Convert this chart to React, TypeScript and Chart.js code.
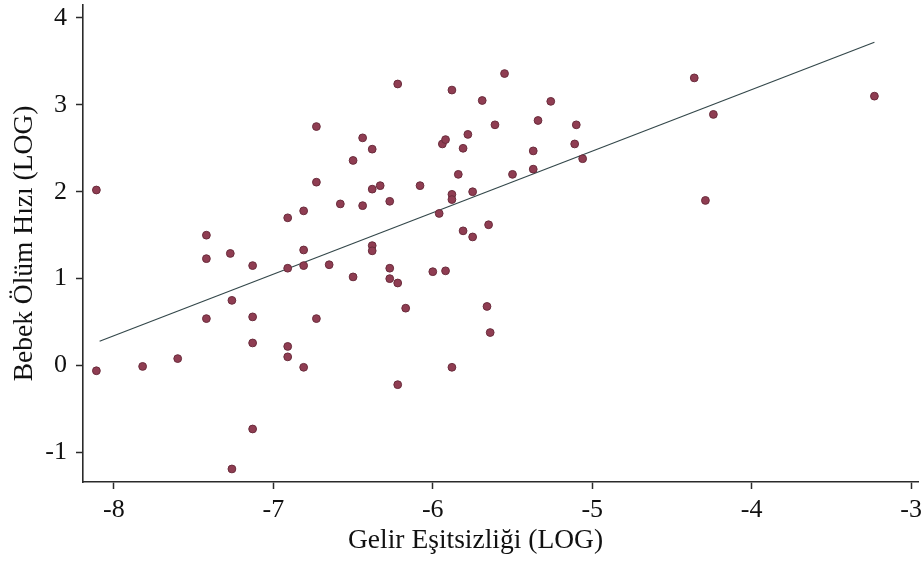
import React, { useEffect, useRef } from "react";
import { Chart, registerables } from "chart.js";

Chart.register(...registerables);

// Scatter observations: income inequality (log) vs infant mortality (log)
const xValues = [
  -8.11, -8.11, -7.82, -7.6, -7.42, -7.42, -7.42, -7.27, -7.26, -7.26,
  -7.13, -7.13, -7.13, -7.13, -6.91, -6.81, -6.81, -6.91, -6.81, -6.91,
  -6.91, -6.81, -6.73, -6.73, -6.73, -6.65, -6.58, -6.5, -6.5, -6.44,
  -6.44, -6.38, -6.38, -6.33, -6.38, -6.38, -6.27, -6.27, -6.27, -6.22,
  -6.22, -6.17, -6.22, -6.08, -6.0, -5.92, -5.96, -5.94, -5.92, -5.88,
  -5.88, -5.88, -5.88, -5.84, -5.81, -5.78, -5.81, -5.75, -5.75, -5.69,
  -5.65, -5.66, -5.64, -5.61, -5.55, -5.5, -5.37, -5.37, -5.34, -5.26,
  -5.11, -5.1, -5.06, -4.36, -4.24, -4.29, -3.23,
];
const yValues = [
  2.02, -0.06, -0.01, 0.08, 1.5, 1.23, 0.54, 1.29, 0.75, -1.19,
  1.15, 0.56, 0.26, -0.73, 1.7, 1.78, 1.33, 1.12, 1.15, 0.22,
  0.1, -0.02, 2.75, 2.11, 0.54, 1.16, 1.86, 2.36, 1.02, 2.62,
  1.84, 2.49, 2.03, 2.07, 1.38, 1.32, 1.89, 1.12, 1.0, 0.95,
  3.24, 0.66, -0.22, 2.07, 1.08, 1.09, 1.75, 2.55, 2.6, 3.17,
  1.97, 1.91, -0.02, 2.2, 2.5, 2.66, 1.55, 1.48, 2.0, 3.05,
  1.62, 0.68, 0.38, 2.77, 3.36, 2.2, 2.26, 2.47, 2.82, 3.04,
  2.55, 2.77, 2.38, 3.31, 2.89, 1.9, 3.1,
];

// Fitted regression line end points
const fitX = [-8.09, -3.23];
const fitY = [0.28, 3.72];

const xTicks = [-8, -7, -6, -5, -4, -3];
const yTicks = [-1, 0, 1, 2, 3, 4];

const xTitle = "Gelir Eşitsizliği (LOG)";
const yTitle = "Bebek Ölüm Hızı (LOG)";

const FONT = "'Liberation Serif', 'Times New Roman', serif";

const xTitlePlugin = {
  id: "xTitleOffset",
  afterDraw(chart: any) {
    const ctx = chart.ctx;
    const area = chart.chartArea;
    ctx.save();
    ctx.font = `27.5px ${FONT}`;
    ctx.fillStyle = "#111";
    ctx.textAlign = "center";
    ctx.textBaseline = "middle";
    // title sits slightly left of the plot-area centre, as in the source
    const cx = (area.left + area.right) / 2 - 25;
    ctx.fillText(xTitle, cx, chart.height - 21);
    ctx.restore();
  },
};

export default function App() {
  const canvasRef = useRef<HTMLCanvasElement | null>(null);

  useEffect(() => {
    const canvas = canvasRef.current;
    if (!canvas) return;
    const scatterData = xValues.map((x, i) => ({ x, y: yValues[i] }));
    const lineData = fitX.map((x, i) => ({ x, y: fitY[i] }));

    const axisColor = "#2a2a2a";

    const chart = new Chart(canvas, {
      type: "scatter",
      data: {
        datasets: [
          {
            data: scatterData,
            backgroundColor: "#8f3d52",
            borderColor: "#6a2c3c",
            borderWidth: 1,
            pointRadius: 3.9,
            pointHoverRadius: 3.9,
          },
          {
            type: "line",
            data: lineData,
            borderColor: "#33474a",
            borderWidth: 1.2,
            pointRadius: 0,
            fill: false,
          } as any,
        ],
      },
      plugins: [xTitlePlugin],
      options: {
        responsive: false,
        animation: false,
        devicePixelRatio: 1,
        layout: { padding: { top: 3, right: 0, left: 0, bottom: 0 } },
        plugins: {
          legend: { display: false },
          tooltip: { enabled: false },
        },
        scales: {
          x: {
            type: "linear",
            min: -8.194,
            max: -2.956,
            afterBuildTicks: (s: any) => {
              s.ticks = xTicks.map((v) => ({ value: v }));
            },
            afterFit: (s: any) => {
              s.height = 80;
              s.paddingLeft = 0;
              s.paddingRight = 0;
            },
            ticks: {
              includeBounds: false,
              padding: 6,
              color: "#111",
              font: { family: FONT, size: 26 },
              maxRotation: 0,
              callback: (v: any) => String(v),
            },
            grid: {
              display: true,
              drawOnChartArea: false,
              drawTicks: true,
              tickLength: 7,
              tickWidth: 1.5,
              tickColor: axisColor,
            },
            border: { display: true, color: axisColor, width: 1.6 },
            title: { display: false },
          },
          y: {
            type: "linear",
            min: -1.34,
            max: 4.15,
            afterBuildTicks: (s: any) => {
              s.ticks = yTicks.map((v) => ({ value: v }));
            },
            afterFit: (s: any) => {
              s.width = 83;
              s.paddingTop = 0;
              s.paddingBottom = 0;
            },
            ticks: {
              includeBounds: false,
              padding: 9,
              color: "#111",
              font: { family: FONT, size: 26 },
              callback: (v: any) => String(v),
            },
            grid: {
              display: true,
              drawOnChartArea: false,
              drawTicks: true,
              tickLength: 7,
              tickWidth: 1.5,
              tickColor: axisColor,
            },
            border: { display: true, color: axisColor, width: 1.6 },
            title: {
              display: true,
              text: yTitle,
              color: "#111",
              font: { family: FONT, size: 27.5 },
              padding: { top: 8, bottom: 0 },
            },
          },
        },
      },
    });
    return () => chart.destroy();
  }, []);

  return (
    <div style={{ position: "absolute", left: 0, top: 0, width: 923, height: 562, background: "#fff" }}>
      <canvas ref={canvasRef} width={923} height={562} />
    </div>
  );
}
